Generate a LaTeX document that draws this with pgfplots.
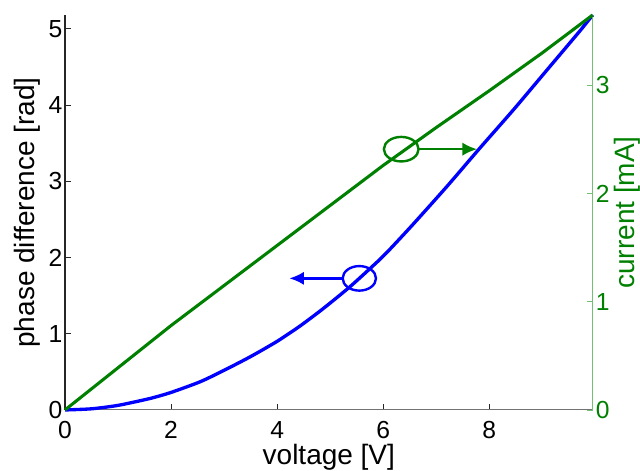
\documentclass[border=0pt]{standalone}
\usepackage{fontspec}
\setmainfont{Liberation Sans}
\usepackage{pgfplots}
\pgfplotsset{compat=1.18}
\usetikzlibrary{arrows.meta}
\definecolor{mgreen}{rgb}{0,0.5,0}
\definecolor{lgreen}{rgb}{0.45,0.75,0.45}
\pgfplotstableread{
x y
0 0
0.5 0.015
1.0 0.06
1.6 0.15
2.0 0.23
2.55 0.37
3.0 0.52
3.5 0.70
4.0 0.90
4.43 1.10
4.87 1.33
5.38 1.62
5.9 1.95
6.13 2.11
6.57 2.44
7.2 2.93
7.83 3.44
8.46 3.94
9.09 4.46
9.72 4.98
9.95 5.18
}\phasetable
\pgfplotstableread{
x y
0 0
1 0.39
2 0.78
3 1.15
4 1.52
5 1.89
6 2.26
7 2.61
8 2.95
9 3.30
9.95 3.65
}\currenttable
\begin{document}
\begin{tikzpicture}
\pgfplotsset{
  common/.style={scale only axis, width=395.8pt, height=296.25pt,
    xmin=0, xmax=9.95, clip=false,
    /pgf/number format/assume math mode=true,
    tick align=inside, major tick length=4.3pt,
    tick label style={font=\fontsize{18.5}{20}\selectfont},
  }
}
\begin{axis}[common, ymin=0, ymax=5.18,
  axis x line*=bottom, axis y line*=left,
  xtick={0,2,4,6,8}, ytick={0,1,2,3,4,5},
  x axis line style={black!55, line width=0.8pt},
  y axis line style={black!85, line width=0.8pt},
  xtick style={black!85, line width=0.6pt},
  ytick style={black!85, line width=0.6pt},
  xticklabel style={anchor=north, inner sep=0pt, yshift=-8.2pt},
  yticklabel style={anchor=east, inner sep=0pt, xshift=-1.7pt},
  every axis x label/.style={at={(axis description cs:0.5,0)}, yshift=-41.2pt, anchor=base, inner sep=0pt, font=\fontsize{21}{24}\selectfont},
  every axis y label/.style={at={(axis description cs:0,0.5)}, xshift=-22.5pt, rotate=90, anchor=base, inner sep=0pt, font=\fontsize{21}{24}\selectfont},
  xlabel={voltage [V]},
  ylabel={phase difference [rad]},
]
\addplot[blue, line width=2.5pt, line join=round, smooth, tension=0.4] table[x=x, y=y] {\phasetable};
\draw[blue, line width=1.8pt] (axis cs:5.55,1.726) ellipse [x radius=12.5pt, y radius=9.2pt];
\draw[blue, line width=1.8pt, -{Latex[length=11pt,width=10pt]}] (axis cs:5.55,1.726) ++(-12.5pt,0) -- (axis cs:4.23,1.726);
\coordinate (bl) at (rel axis cs:0,0);
\coordinate (tr) at (rel axis cs:1,1);
\end{axis}
\begin{axis}[common, ymin=0, ymax=3.65,
  axis x line=none, axis y line*=right,
  ytick={0,1,2,3},
  y axis line style={lgreen, line width=0.8pt},
  ytick style={lgreen, line width=0.6pt},
  yticklabel style={mgreen, anchor=west, inner sep=0pt, xshift=2.25pt},
  every axis y label/.style={at={(axis description cs:1,0.5)}, xshift=31pt, rotate=90, anchor=base, inner sep=0pt, font=\fontsize{21}{24}\selectfont, mgreen},
  ylabel={current [mA]},
]
\addplot[mgreen, line width=2.3pt, line join=round] table[x=x, y=y] {\currenttable};
\draw[mgreen, line width=1.8pt] (axis cs:6.34,2.41) ellipse [x radius=13pt, y radius=9.2pt];
\draw[mgreen, line width=1.8pt, -{Latex[length=11pt,width=10pt]}] (axis cs:6.34,2.41) ++(13pt,0) -- (axis cs:7.77,2.41);
\end{axis}
\pgfresetboundingbox
\useasboundingbox ([shift={(-48.75pt,-45.75pt)}]bl) rectangle ([shift={(35.5pt,11.25pt)}]tr);
\end{tikzpicture}
\end{document}
